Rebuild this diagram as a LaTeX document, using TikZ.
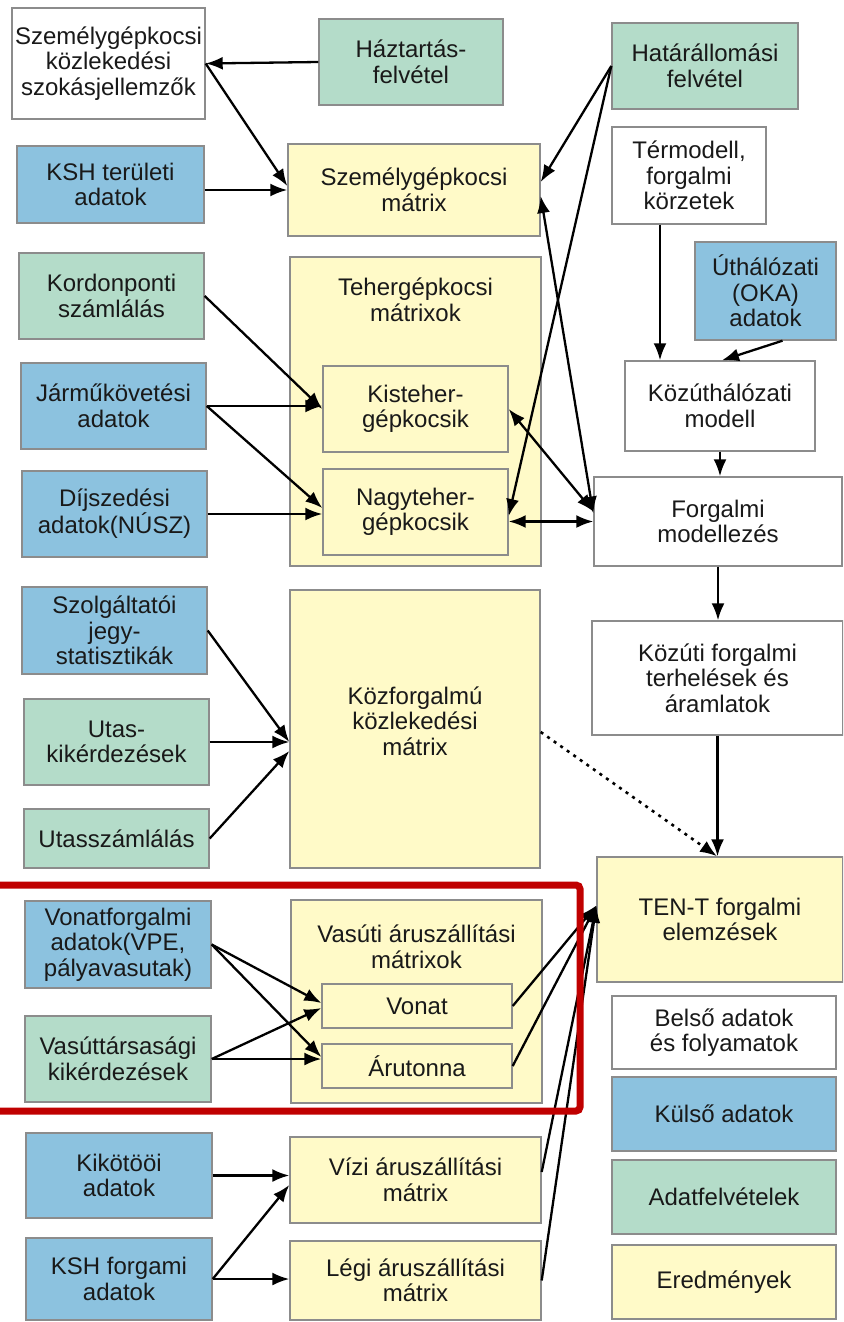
\documentclass[tikz,border=0pt]{standalone}
\usepackage{fontspec}
\setmainfont{Liberation Sans}
\usetikzlibrary{arrows.meta,calc}
\definecolor{adatzold}{RGB}{180,220,201}
\definecolor{kulsokek}{RGB}{140,194,223}
\definecolor{eredmsarga}{RGB}{255,250,200}
\definecolor{keretpiros}{RGB}{192,0,0}

\begin{document}
\begin{tikzpicture}[x=1pt,y=-1pt,
    doboz/.style={draw=black!45,line width=1.4pt,align=center,inner sep=0pt,text=black!90,font=\fontsize{24}{25.5}\selectfont},
    meret/.style 2 args={minimum width=#1,minimum height=#2},
    fehdoboz/.style={doboz,fill=white},
    kekdoboz/.style={doboz,fill=kulsokek},
    zolddoboz/.style={doboz,fill=adatzold},
    sargadoboz/.style={doboz,fill=eredmsarga},
    cim/.style={align=center,inner sep=0pt,text=black!90,font=\fontsize{24}{25.5}\selectfont},
    nyil/.style={line width=2.3pt,-{Latex[length=17pt,width=13pt]}},
    kettos/.style={line width=2.3pt,{Latex[length=17pt,width=13pt]}-{Latex[length=17pt,width=13pt]}}]
\useasboundingbox (0,0) rectangle (843,1322);
\clip (0,0) rectangle (843,1322);

\node[fehdoboz,meret={193}{111}] (szjell) at (108.5,63.5) {Személygépkocsi\\közlekedési\\szokásjellemzők};
\node[zolddoboz,meret={184}{86}] (haztartas) at (411,62) {Háztartás-\\felvétel};
\node[kekdoboz,meret={187}{77}] (kshter) at (110.5,184.5) {KSH területi\\adatok};
\node[sargadoboz,meret={252}{92}] (szgm) at (414,190) {Személygépkocsi\\mátrix};
\node[zolddoboz,meret={186}{86}] (hatar) at (705,66) {Határállomási\\felvétel};
\node[fehdoboz,meret={154}{97}] (termodell) at (689,175.5) {Térmodell,\\forgalmi\\körzetek};
\node[kekdoboz,meret={141}{98}] (uthal) at (765.5,291) {Úthálózati\\(OKA)\\adatok};
\node[fehdoboz,meret={190}{90}] (kozut) at (720,406) {Közúthálózati\\modell};
\node[fehdoboz,meret={248}{89}] (forgmod) at (718,521.5) {Forgalmi\\modellezés};

\node[zolddoboz,meret={185}{86}] (kordon) at (111.5,296) {Kordonponti\\számlálás};
\node[kekdoboz,meret={185}{86}] (jarmu) at (113.5,406) {Járműkövetési\\adatok};
\node[kekdoboz,meret={185}{86}] (dij) at (114.5,514) {Díjszedési\\adatok(NÚSZ)};
\node[sargadoboz,meret={251}{309}] (teher) at (415.5,411.5) {};
\node[cim] (tehercim) at (415.5,300) {Tehergépkocsi\\mátrixok};
\node[sargadoboz,meret={185}{86}] (kisteher) at (415.5,409) {Kisteher-\\gépkocsik};
\node[sargadoboz,meret={185}{86}] (nagyteher) at (415.5,512) {Nagyteher-\\gépkocsik};

\node[kekdoboz,meret={185}{87}] (szolg) at (114.5,630.5) {Szolgáltatói\\jegy-\\statisztikák};
\node[zolddoboz,meret={185}{86}] (utas) at (116.5,742) {Utas-\\kikérdezések};
\node[zolddoboz,meret={185}{59}] (utasszam) at (116.5,838.5) {Utasszámlálás};
\node[sargadoboz,meret={250}{278}] (kozforg) at (415,729) {};
\node[cim] (kozforgcim) at (415,721) {Közforgalmú\\közlekedési\\mátrix};
\node[fehdoboz,meret={251}{114}] (kozuti) at (717.5,678) {Közúti forgalmi\\terhelések és\\áramlatok};
\node[sargadoboz,meret={246}{125}] (tent) at (720,919.5) {TEN-T forgalmi\\elemzések};

\node[kekdoboz,meret={186}{87}] (vonatforg) at (118,944.5) {Vonatforgalmi\\adatok(VPE,\\pályavasutak)};
\node[zolddoboz,meret={186}{86}] (vasutt) at (118,1059) {Vasúttársasági\\kikérdezések};
\node[sargadoboz,meret={251}{203}] (vasuti) at (416.5,1001.5) {};
\node[cim] (vasuticim) at (416.5,947) {Vasúti áruszállítási\\mátrixok};
\node[sargadoboz,meret={190}{44}] (vonat) at (417,1006) {Vonat};
\node[sargadoboz,meret={190}{44}] (arutonna) at (417,1066) {Árutonna};

\node[kekdoboz,meret={186}{85}] (kikotoi) at (119,1175.5) {Kikötööi\\adatok};
\node[kekdoboz,meret={186}{82}] (kshforg) at (119,1279) {KSH forgami\\adatok};
\node[sargadoboz,meret={251}{86}] (vizi) at (415.5,1180) {Vízi áruszállítási\\mátrix};
\node[sargadoboz,meret={251}{79}] (legi) at (415.5,1280.5) {Légi áruszállítási\\mátrix};

\node[fehdoboz,meret={224}{73}] (belso) at (724,1032.5) {Belső adatok\\és folyamatok};
\node[kekdoboz,meret={224}{74}] (kulso) at (724,1114) {Külső adatok};
\node[zolddoboz,meret={224}{74}] (adatfel) at (724,1197) {Adatfelvételek};
\node[sargadoboz,meret={224}{74}] (eredm) at (724,1282) {Eredmények};

\coordinate (tmki) at ([xshift=-29pt]termodell.south);
\coordinate (tenbe) at ([yshift=14pt]tent.west);

\draw[nyil] (haztartas.west) -- (szjell.east);
\draw[nyil] (szjell.east) -- ([yshift=4pt]szgm.west);
\draw[nyil] (kshter.east |- szgm.west) -- (szgm.west);
\draw[nyil] (hatar.west) -- ([yshift=8pt]szgm.east);
\draw[nyil] (hatar.west) -- ([yshift=-4pt]nagyteher.east);
\draw[kettos] ([yshift=-6pt]szgm.east) -- ([yshift=8pt]forgmod.west);
\draw[kettos] (kisteher.east) -- ([yshift=10pt]forgmod.west);
\draw[kettos] (nagyteher.east |- forgmod.west) -- (forgmod.west);
\draw[nyil] (kordon.east) -- (kisteher.west);
\draw[nyil] (jarmu.east) -- (jarmu.east -| kisteher.west);
\draw[nyil] (jarmu.east) -- ([yshift=4pt]nagyteher.west);
\draw[nyil] (dij.east) -- (dij.east -| nagyteher.west);
\draw[nyil] (tmki) -- (tmki |- kozut.north);
\draw[nyil] ([xshift=17pt]uthal.south) -- ([xshift=2pt]kozut.north);
\draw[nyil] (kozut.south) -- (kozut.south |- forgmod.north);
\draw[nyil] (forgmod.south) -- (forgmod.south |- kozuti.north);
\draw[nyil] (kozuti.south) -- (kozuti.south |- tent.north);
\draw[line width=2.6pt,dash pattern=on 3pt off 5pt,-{Latex[length=17pt,width=13pt]}] ([yshift=-3pt]kozforg.east) -- ([xshift=-3pt]tent.north);

\draw[nyil] (szolg.east) -- ([yshift=-13pt]kozforg.west);
\draw[nyil] (utas.east) -- (utas.east -| kozforg.west);
\draw[nyil] (utasszam.east) -- ([yshift=-22pt]kozforg.west);

\draw[nyil] (vonatforg.east) -- ([yshift=3pt]vonat.west);
\draw[nyil] (vonatforg.east) -- ([yshift=9pt]arutonna.west);
\draw[nyil] (vasutt.east) -- ([yshift=-2pt]vonat.west);
\draw[nyil] (vasutt.east) -- (vasutt.east -| arutonna.west);
\draw[nyil] (vonat.east) -- (tenbe);
\draw[nyil] (arutonna.east) -- (tenbe);
\draw[nyil] ([yshift=8pt]vizi.east) -- (tenbe);
\draw[nyil] (legi.east) -- (tenbe);

\draw[nyil] (kikotoi.east) -- (kikotoi.east -| vizi.west);
\draw[nyil] (kshforg.east) -- ([yshift=-5pt]vizi.west);
\draw[nyil] (kshforg.east) -- (kshforg.east -| legi.west);

\draw[keretpiros,line width=7pt,rounded corners=4pt] (-20,885) rectangle (580,1111);
\end{tikzpicture}
\end{document}
